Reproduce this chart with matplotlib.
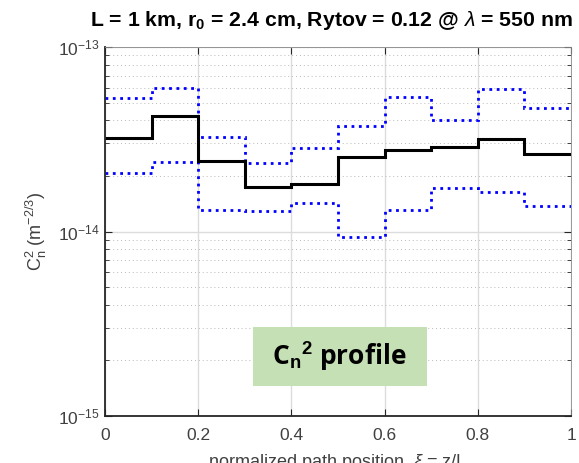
import numpy as np
import matplotlib.pyplot as plt
from matplotlib.patches import Rectangle
from matplotlib.ticker import LogLocator, NullFormatter

# path segments (normalized position) and Cn2 values per segment
edges = [0, 0.1, 0.2, 0.3, 0.4, 0.5, 0.6, 0.7, 0.8, 0.9, 1.0]
cn2 = [3.22e-14, 4.23e-14, 2.40e-14, 1.74e-14, 1.82e-14,
       2.52e-14, 2.77e-14, 2.86e-14, 3.17e-14, 2.63e-14]
cn2_hi = [5.31e-14, 5.97e-14, 3.27e-14, 2.34e-14, 2.84e-14,
          3.72e-14, 5.38e-14, 4.00e-14, 5.90e-14, 4.65e-14]
cn2_lo = [2.07e-14, 2.39e-14, 1.31e-14, 1.29e-14, 1.43e-14,
          9.28e-15, 1.30e-14, 1.73e-14, 1.63e-14, 1.38e-14]

xticks = [0, 0.2, 0.4, 0.6, 0.8, 1]
xticklabels = ['0', '0.2', '0.4', '0.6', '0.8', '1']

plt.rcParams['font.family'] = ['Liberation Sans', 'DejaVu Sans']
plt.rcParams['mathtext.fontset'] = 'custom'
plt.rcParams['mathtext.rm'] = 'Liberation Sans'
plt.rcParams['mathtext.it'] = 'Liberation Sans:italic'
plt.rcParams['mathtext.bf'] = 'Liberation Sans:bold'

fig = plt.figure(figsize=(5.79, 4.63), dpi=100)
ax = fig.add_axes([105 / 579, 1 - 416 / 463, 466 / 579, 369 / 463])

ax.stairs(cn2_hi, edges, baseline=None, color='blue', linestyle=':', linewidth=2.0)
ax.stairs(cn2_lo, edges, baseline=None, color='blue', linestyle=':', linewidth=2.0)
ax.stairs(cn2, edges, baseline=None, color='black', linewidth=2.2)

ax.set_yscale('log')
ax.set_ylim(1e-15, 1e-13)
ax.set_xlim(0, 1)
ax.set_xticks(xticks)
ax.set_xticklabels(xticklabels)
ax.yaxis.set_major_locator(LogLocator(base=10, numticks=5))
ax.yaxis.set_minor_locator(LogLocator(base=10, subs=np.arange(2, 10), numticks=20))
ax.yaxis.set_minor_formatter(NullFormatter())

ax.grid(True, which='major', color='#dcdcdc', linewidth=1.0)
ax.grid(True, which='minor', axis='y', color='#b8b8b8', linestyle=(0, (1, 3)), linewidth=0.7)
ax.set_axisbelow(True)

ax.tick_params(which='both', direction='in', top=True, right=True, colors='#262626',
               labelcolor='#404040', labelsize=12.5)
ax.tick_params(axis='x', pad=9)
ax.tick_params(axis='y', pad=4)
ax.tick_params(which='major', length=5)
ax.tick_params(which='minor', length=3)
for side in ['left', 'bottom']:
    ax.spines[side].set_color('#262626')
    ax.spines[side].set_linewidth(1.3)
for side in ['top', 'right']:
    ax.spines[side].set_color('#888888')
    ax.spines[side].set_linewidth(0.6)

fig.text(331 / 579, 1 - 21 / 463,
         r'L = 1 km, r$_\mathbf{0}$ = 2.4 cm, Rytov = 0.12 @ $\lambda$ = 550 nm',
         ha='center', va='center', fontsize=15.3, fontweight='bold')
ax.set_ylabel(r'C$_\mathrm{n}^2$ (m$^{-2/3}$)', fontsize=13, color='#404040', labelpad=6)
ax.set_xlabel(r'normalized path position, $\xi$ = z/L', fontsize=13, color='#404040',
              labelpad=6)

# label box
ax.add_patch(Rectangle((0.3176, 0.0813), 0.3734, 0.1597, transform=ax.transAxes,
                       facecolor='#c5e0b4', edgecolor='none', zorder=3))
ax.text(0.504, 0.158, r'C$_\mathbf{n}$$^\mathbf{2}$ profile', transform=ax.transAxes,
        ha='center', va='center', fontsize=19, fontweight='bold', zorder=4,
        family=['Open Sans', 'DejaVu Sans'])

fig.savefig('out.png', dpi=100)
